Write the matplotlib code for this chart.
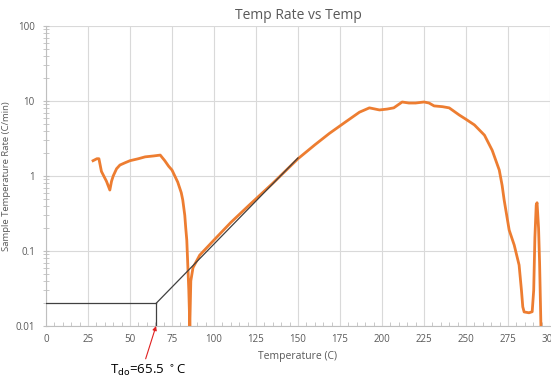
import numpy as np
import matplotlib.pyplot as plt
from matplotlib.ticker import MultipleLocator, LogLocator, NullFormatter, FixedLocator

# orange curve
temp = [28, 30.3, 31.5, 33, 36, 38, 39, 40, 42, 44, 47, 50, 55, 59, 64, 68,
        70.7, 73, 75, 78.4, 80.5, 81.4, 82.6, 83.2, 83.8, 84.4, 85.0, 85.6,
        86.2, 87.5, 91.5, 100, 110, 121, 135, 150, 160, 168.7, 178, 186.6,
        192.5, 198.5, 203, 207, 212, 216, 220, 225, 228, 231, 236, 240, 246,
        250, 255, 261, 265.6, 269.8, 271.5, 272.7, 275.7, 278.7, 281.6, 283.0,
        283.8, 284.6, 287.5, 289.4, 290.3, 291.0, 291.8, 292.3, 293.2, 293.8,
        294.6]
rate = [1.6, 1.7, 1.7, 1.15, 0.85, 0.65, 0.85, 1.0, 1.25, 1.4, 1.5, 1.6, 1.7,
        1.8, 1.85, 1.9, 1.6, 1.35, 1.2, 0.83, 0.6, 0.48, 0.3, 0.2, 0.14, 0.065,
        0.03, 0.01, 0.04, 0.06, 0.088, 0.14, 0.24, 0.41, 0.8, 1.7, 2.6, 3.7,
        5.2, 7.1, 8.1, 7.6, 7.8, 8.1, 9.7, 9.4, 9.4, 9.7, 9.4, 8.6, 8.4, 8.1,
        6.5, 5.7, 4.8, 3.5, 2.2, 1.2, 0.75, 0.48, 0.19, 0.12, 0.065, 0.03,
        0.018, 0.0154, 0.015, 0.0155, 0.03, 0.15, 0.41, 0.44, 0.2, 0.07, 0.01]

# onset construction lines
t_onset = 65.5
base_x = [0, t_onset]
base_y = [0.02, 0.02]
drop_x = [t_onset, t_onset]
drop_y = [0.01, 0.02]
tan_x = [t_onset, 150]
tan_y = [0.02, 1.74]

grey = '#595959'
plt.rcParams['font.family'] = ['Open Sans', 'DejaVu Sans']

fig = plt.figure(figsize=(5.51, 3.77), dpi=100)
ax = fig.add_axes([46/551, 1-326/377, 504/551, 300/377])

ax.plot(temp, rate, color='#ED7D31', lw=2, zorder=3)
ax.plot(base_x, base_y, color='#404040', lw=0.9, zorder=4)
ax.plot(drop_x, drop_y, color='#404040', lw=0.9, zorder=4)
ax.plot(tan_x, tan_y, color='#404040', lw=0.9, zorder=4)

ax.set_yscale('log')
ax.set_xlim(0, 300)
ax.set_ylim(0.01, 100)
ax.xaxis.set_major_locator(MultipleLocator(25))
ax.xaxis.set_minor_locator(MultipleLocator(5))
ax.yaxis.set_major_locator(FixedLocator([0.01, 0.1, 1, 10, 100]))
ax.yaxis.set_minor_locator(LogLocator(base=10, subs=np.arange(2, 10)))
ax.yaxis.set_minor_formatter(NullFormatter())
ax.set_yticklabels(['0.01', '0.1', '1', '10', '100'])

ax.grid(True, which='major', color='#d9d9d9', lw=0.8)
for s in ['top', 'right']:
    ax.spines[s].set_visible(False)
for s in ['left', 'bottom']:
    ax.spines[s].set_color('#bfbfbf')
ax.tick_params(which='both', colors='#bfbfbf', labelcolor=grey, labelsize=7)
ax.tick_params(axis='x', which='major', length=0, pad=6)
ax.tick_params(axis='x', which='minor', direction='in', length=3)
ax.tick_params(axis='y', which='major', length=4, direction='inout', pad=6)
ax.tick_params(axis='y', which='minor', length=4, direction='inout')

ax.set_title('Temp Rate vs Temp', color=grey, fontsize=10, pad=5)
ax.set_xlabel('Temperature (C)', color=grey, fontsize=7.5, labelpad=4)
ax.set_ylabel('Sample Temperature Rate (C/min)', color=grey, fontsize=6.8, labelpad=3)

ax.annotate('T$_{\\mathrm{do}}$=65.5 $^\\circ$C', xy=(t_onset, 0.01), xytext=(110/551, 3/377),
            textcoords='figure fraction', fontsize=9.5, color='black',
            annotation_clip=False,
            arrowprops=dict(arrowstyle='-|>', color='#e02020', lw=0.8,
                            mutation_scale=6, shrinkA=1, shrinkB=0,
                            relpos=(0.45, 1.0)))

fig.savefig('out.png', dpi=100)
